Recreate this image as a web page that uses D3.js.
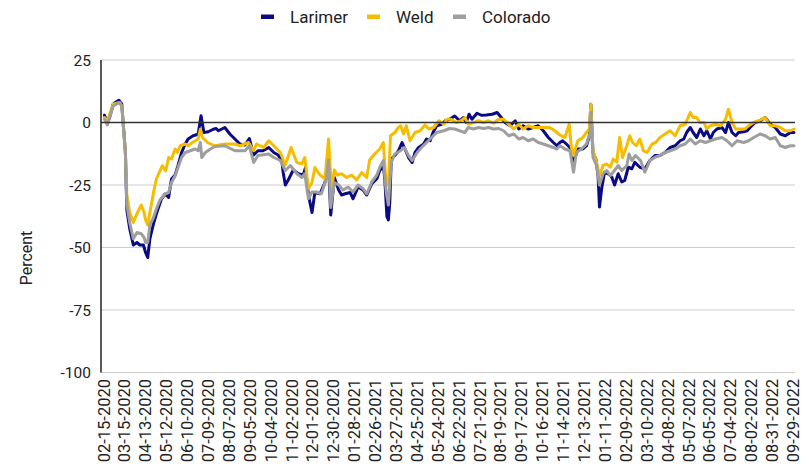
<!DOCTYPE html>
<html><head><meta charset="utf-8">
<script src="https://cdn.jsdelivr.net/npm/d3@7"></script>
<style>
body{margin:0;background:#fff;}
text{font-family:Roboto,"Liberation Sans",Arial,sans-serif;fill:#222;}
</style></head>
<body><svg id="c" width="809" height="471"></svg>
<script>
// Tick labels (every 29 days from 02-15-2020)
const tickLabels = ["02-15-2020","03-15-2020","04-13-2020","05-12-2020","06-10-2020","07-09-2020","08-07-2020","09-05-2020","10-04-2020","11-02-2020","12-01-2020","12-30-2020","01-28-2021","02-26-2021","03-27-2021","04-25-2021","05-24-2021","06-22-2021","07-21-2021","08-19-2021","09-17-2021","10-16-2021","11-14-2021","12-13-2021","01-11-2022","02-09-2022","03-10-2022","04-08-2022","05-07-2022","06-05-2022","07-04-2022","08-02-2022","08-31-2022","09-29-2022"];
const yTicks = [25, 0, -25, -50, -75, -100];
const seriesNames = ["Larimer","Weld","Colorado"];
// Values: [day since 02-15-2020, percent]
const larimer = [[0,2.9],[4,-0.3],[7,2],[12,7.3],[16,8.2],[20,8.9],[24,7.3],[29,-12],[31,-35],[35,-42.5],[40,-49],[45,-48],[49,-49],[54,-49],[57,-52],[60,-54],[63,-46.5],[68,-40.5],[72,-36.5],[79,-30.6],[84,-28.6],[89,-30],[93,-22.6],[98,-21],[102,-17.3],[107,-12],[112,-8.6],[116,-6.6],[123,-5.3],[130,-4.7],[134,2.7],[138,-4],[144,-3.7],[151,-2.7],[155,-2.4],[158,-3.3],[167,-2],[174,-4.6],[181,-6.6],[188,-8.6],[195,-9],[201,-6.4],[207,-13],[213,-11.3],[220,-11.3],[228,-10],[235,-12],[241,-13],[246,-15],[248,-20],[251,-25],[255,-23],[262,-19],[269,-20.5],[276,-21],[279,-18],[283,-29],[288,-36],[292,-28],[299,-28.5],[306,-24],[311,-17],[314,-37],[319,-22],[325,-27],[329,-29],[334,-28.5],[341,-28],[345,-30.5],[352,-25.8],[359,-27],[364,-29],[371,-24.5],[378,-22.5],[382,-19.2],[387,-17.2],[389,-22.5],[392,-37.7],[394,-39],[396,-31.8],[398,-14.6],[403,-13.2],[408,-11.3],[413,-8],[417,-10.6],[422,-14],[427,-16],[431,-12],[436,-10],[443,-8.6],[447,-6.6],[452,-7.3],[456,-4],[461,-1.3],[468,-0.7],[473,0.7],[479,1.3],[486,2.6],[493,0.7],[498,2],[502,0],[506,3.3],[510,1.3],[517,3.7],[523,2.9],[530,3],[538,3.3],[545,4],[549,2.6],[556,0],[563,-1.3],[570,0.7],[575,-2.6],[581,-1.3],[588,-2.6],[595,-2],[602,-1.3],[609,-3.3],[616,-6],[623,-8],[628,-9.3],[632,-8],[636,-7.3],[641,-8.6],[646,-10],[650,-15.9],[653,-14],[657,-10.6],[664,-10.6],[669,-9.3],[673,-5.3],[675,7.3],[678,-12],[682,-14.6],[685,-21],[687,-33.8],[690,-26.5],[694,-19.9],[699,-20.5],[704,-21.8],[708,-25],[713,-20.5],[718,-23.8],[722,-23.2],[727,-17.9],[732,-18.5],[736,-15.9],[743,-17.9],[750,-18.5],[757,-15.2],[764,-13.2],[771,-13.2],[778,-12],[785,-10],[792,-9.3],[799,-7.3],[804,-6.6],[808,-4],[813,-2],[817,-4],[822,-6],[827,-2.6],[832,-5.3],[836,-3.3],[841,-6.6],[845,-4],[850,-2.6],[857,-2],[862,-4],[866,0],[871,-4],[876,-5.3],[880,-4],[887,-3.7],[892,-3.3],[896,-2],[903,0],[910,0.7],[917,2],[924,-0.7],[931,-2],[938,-4.6],[945,-5.3],[952,-4],[957,-4]];
const weld = [[0,2],[4,0.7],[12,7.3],[21,8],[24,6.6],[29,-12],[31,-29],[35,-36],[40,-40],[45,-36.5],[51,-33],[55,-36],[57,-39],[60,-41],[63,-36],[68,-28],[72,-22.6],[77,-19.3],[80,-17.3],[85,-19.3],[89,-14],[93,-14.6],[98,-10.6],[101,-12],[105,-9.3],[112,-8.6],[116,-9.3],[122,-8],[130,-6.6],[133,-2.7],[136,-6],[143,-8],[153,-9.3],[167,-8.6],[181,-8.6],[188,-9.3],[200,-8],[207,-11.3],[211,-8.6],[221,-10],[228,-7.3],[235,-9.3],[244,-12],[251,-17],[259,-10],[267,-16],[274,-16.5],[278,-14],[283,-26.5],[288,-24],[292,-18],[299,-21],[306,-22.5],[311,-6.6],[315,-27],[319,-19],[323,-21],[329,-20.5],[336,-22],[343,-21],[350,-23],[357,-20],[364,-22],[368,-15],[375,-12.6],[382,-10.6],[387,-8],[391,-25],[394,-25],[397,-5.3],[403,-4],[408,-2],[411,-1.3],[415,-4.6],[419,-1.3],[424,-7.3],[431,-4],[438,-3.3],[445,-1],[450,-2.6],[457,-2],[464,0.7],[471,-0.7],[475,1.3],[481,1.3],[488,0],[495,0.7],[500,2],[505,-0.7],[512,0],[519,0.7],[526,0],[533,0.7],[540,-0.3],[547,1.3],[554,1.3],[561,-0.7],[568,-2.6],[575,-0.7],[581,-2.6],[588,-1.3],[595,-2],[602,-2],[611,-2],[618,-2],[625,-3.3],[632,-5],[639,-6],[645,-0.7],[648,-10],[651,-13.2],[657,-7.3],[664,-6],[669,-4],[673,-2.6],[675,7.3],[678,-11.3],[683,-15.9],[687,-21.2],[692,-17.2],[697,-16.6],[702,-17.9],[706,-14.6],[711,-15.9],[715,-6],[719,-14],[725,-9.3],[729,-5.3],[733,-8],[738,-9.3],[743,-6.6],[748,-11.3],[753,-12],[760,-8.6],[765,-8],[771,-6],[778,-4.6],[785,-3.3],[792,-5.3],[799,-1.3],[806,-0.7],[813,4],[817,2],[822,2],[826,0],[832,0],[836,-2.6],[841,-1.3],[848,-0.7],[855,-1.3],[862,1.3],[866,5.3],[871,0],[876,-2.6],[882,-2.6],[889,-2.6],[894,-1.3],[901,0],[908,0.7],[917,2],[924,-1.3],[931,-1.3],[938,-2],[945,-3.3],[952,-3.3],[957,-2.6]];
const colorado = [[0,1.3],[4,-1],[12,6.6],[21,8],[24,6.6],[29,-12],[31,-33],[35,-40],[40,-46.5],[45,-44],[51,-44.5],[55,-46],[57,-48],[60,-48],[63,-41],[68,-38],[72,-34.6],[77,-31],[84,-28.6],[89,-28],[93,-24],[98,-21.3],[102,-18],[107,-14],[112,-12],[119,-11.3],[126,-10.6],[130,-11.3],[133,-8],[135,-14],[140,-12],[147,-10.6],[153,-9.6],[167,-9.3],[181,-11.3],[195,-11.3],[201,-9.3],[207,-16],[213,-13.2],[228,-12.6],[235,-14],[244,-15.2],[251,-19.2],[258,-17.2],[267,-20.5],[274,-22],[278,-20.5],[283,-30.5],[288,-27.8],[294,-27.8],[301,-28.5],[308,-22.5],[311,-15],[314,-34],[319,-24],[325,-25],[331,-27],[338,-25.8],[345,-27.8],[352,-25],[359,-26.5],[364,-28.5],[371,-23.8],[378,-21],[382,-18],[387,-15.2],[391,-27.8],[394,-33],[398,-16],[403,-12.6],[411,-11.3],[416,-10],[422,-13.2],[427,-15.2],[434,-12],[440,-10],[447,-8],[454,-6],[461,-4],[471,-3.3],[479,-2.4],[486,-2.6],[493,-3.3],[500,-4],[505,-2],[512,-2.6],[519,-2],[526,-2.4],[533,-2],[540,-2.6],[547,-2.4],[554,-3.3],[561,-5.3],[568,-4.6],[575,-6.6],[581,-6],[588,-7.3],[595,-6.6],[602,-8],[609,-8.6],[616,-9.3],[623,-10],[628,-10.6],[632,-9.3],[636,-10],[639,-10.6],[646,-11.3],[651,-19.9],[655,-12],[662,-10.6],[669,-8.6],[674,-4],[675,4],[678,-14],[683,-17.2],[687,-25],[692,-20.5],[697,-19.2],[702,-21.2],[706,-19.9],[713,-17.2],[718,-19.2],[725,-17.2],[728,-12.6],[732,-15.2],[737,-13.2],[744,-15.2],[750,-19.9],[757,-15.2],[764,-13.9],[771,-13.2],[778,-12],[785,-11.3],[792,-10.6],[799,-9.3],[806,-8.6],[813,-6.6],[820,-8.6],[827,-7.3],[834,-8],[841,-7.3],[848,-6.6],[857,-6],[864,-7.3],[871,-9.3],[878,-7.3],[887,-8],[894,-7.3],[901,-6],[910,-4.6],[917,-5.3],[924,-6.6],[931,-6],[938,-9.3],[945,-10],[952,-9.3],[957,-9.3]];
const colors = ["#0a0a86","#f6bd00","#9e9e9e"];

const svg = d3.select("#c");
const plotL = 101, plotR = 795;
const x = d3.scaleLinear().domain([0, 957]).range([104.5, 794]);
const y = d3.scaleLinear().domain([-100, 25]).range([372.5, 60]);

// gridlines
svg.append("g").selectAll("line").data(yTicks.filter(v => v !== 0)).join("line")
  .attr("x1", plotL).attr("x2", plotR)
  .attr("y1", d => y(d)).attr("y2", d => y(d))
  .attr("stroke", "#cccccc").attr("stroke-width", 1);

// y tick labels
svg.append("g").selectAll("text").data(yTicks).join("text")
  .attr("x", 91).attr("y", d => y(d)).attr("dy", "0.36em")
  .attr("text-anchor", "end").attr("font-size", 15.5).text(d => d);

// x tick labels
svg.append("g").selectAll("text").data(tickLabels).join("text")
  .attr("transform", (d, i) => `translate(${x(i * 29) + 5},379) rotate(-90)`)
  .attr("text-anchor", "end").attr("font-size", 16.5).text(d => d);

// axis title
svg.append("text").attr("transform", "translate(32,258) rotate(-90)")
  .attr("text-anchor", "middle").attr("font-size", 16).text("Percent");

// lines
const line = d3.line().x(d => x(d[0])).y(d => y(d[1]));
[larimer, weld, colorado].forEach((s, i) => {
  svg.append("path").datum(s).attr("d", line).attr("fill", "none")
    .attr("stroke", colors[i]).attr("stroke-width", 3)
    .attr("stroke-linejoin", "round").attr("stroke-linecap", "round");
});

// zero line and left axis
svg.append("line").attr("x1", plotL).attr("x2", plotR).attr("y1", y(0)).attr("y2", y(0))
  .attr("stroke", "#333").attr("stroke-width", 1.5);
svg.append("line").attr("x1", plotL).attr("x2", plotL).attr("y1", y(25)).attr("y2", y(-100))
  .attr("stroke", "#222").attr("stroke-width", 1.5);

// legend
const legX = [261, 367, 453];
const lg = svg.append("g");
seriesNames.forEach((n, i) => {
  lg.append("rect").attr("x", legX[i]).attr("y", 14.5).attr("width", 13).attr("height", 4.5).attr("fill", colors[i]);
  lg.append("text").attr("x", legX[i] + 29).attr("y", 22.5).attr("font-size", 17).text(n);
});
</script></body></html>
